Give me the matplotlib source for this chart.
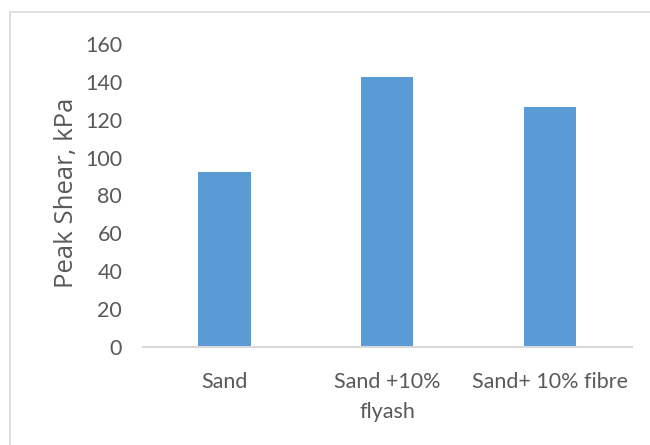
import matplotlib.pyplot as plt
from matplotlib.patches import Rectangle

categories = ["Sand", "Sand +10%\nflyash", "Sand+ 10% fibre"]
peak_shear = [92.5, 142.5, 126.5]
y_ticks = [0, 20, 40, 60, 80, 100, 120, 140, 160]

plt.rcParams["font.family"] = ["Lato", "DejaVu Sans"]

fig = plt.figure(figsize=(6.5, 4.45), dpi=100)
ax = fig.add_axes([0.22, 0.221, 0.752, 0.680])

x = range(len(categories))
ax.bar(x, peak_shear, width=0.32, color="#5B9BD5", zorder=2)

ax.set_xlim(-0.5, len(categories) - 0.5)
ax.set_ylim(0, 160)
ax.set_yticks(y_ticks)
ax.set_xticks(list(x))
ax.set_xticklabels(categories, linespacing=1.65)

ax.tick_params(axis="y", length=0, pad=15, labelsize=15.5, labelcolor="#595959")
ax.tick_params(axis="x", length=0, pad=18, labelsize=15.5, labelcolor="#595959")

for side in ["top", "right", "left"]:
    ax.spines[side].set_visible(False)
ax.spines["bottom"].set_color("#d9d9d9")
ax.spines["bottom"].set_linewidth(1.5)

ax.set_ylabel("Peak Shear, kPa", fontsize=18.5, color="#595959",
              family=["Open Sans", "DejaVu Sans"])
ax.yaxis.set_label_coords(-0.131, 0.51)

# outer chart frame
fig.patches.append(Rectangle((10 / 650, -0.1), 1.2, 1 - 12 / 445 + 0.1,
                             transform=fig.transFigure, fill=False,
                             edgecolor="#d9d9d9", linewidth=1.2))

fig.savefig("out.png", dpi=100)
